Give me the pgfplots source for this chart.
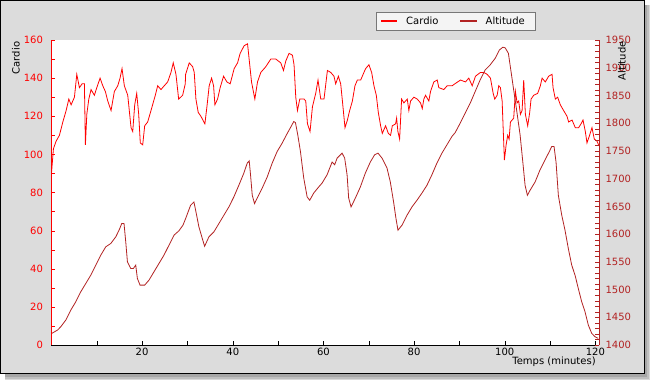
\documentclass[border=0pt]{standalone}
\usepackage{pgfplots}
\pgfplotsset{compat=1.18}
\usepackage{fontspec}
\setmainfont{DejaVu Sans}
\definecolor{fb}{HTML}{B22222}
\definecolor{bgc}{HTML}{DCDCDC}
\definecolor{lgborder}{HTML}{777777}
\definecolor{lgfill}{HTML}{F4F4F4}
\begin{document}
\begin{tikzpicture}[x=1pt,y=1pt]
\fill[white] (0,0) rectangle (650,380);
\fill[gray!30] (5,0) rectangle (650,375);
\fill[gray!50] (5,1.5) rectangle (648.5,375);
\fill[gray!70] (5,3) rectangle (647,375);
\filldraw[fill=bgc, draw=black, line width=1pt] (0.5,6.5) rectangle (644,379.5);
\fill[white] (51,35) rectangle (599,340);
\begin{axis}[
  at={(51pt,35pt)}, anchor=south west, scale only axis,
  width=548pt, height=305pt,
  xmin=-0.1, xmax=120.8, ymin=0, ymax=160,
  axis x line*=bottom, axis y line*=left,
  axis line style={-},
  x axis line style={black},
  y axis line style={red},
  xtick={20,40,...,120}, minor xtick={10,30,...,110},
  ytick={0,20,...,160}, minor ytick={10,30,...,150},
  tick align=inside, major tick length=4pt, minor tick length=4pt,
  x tick style={black}, y tick style={red},
  y tick label style={red, xshift=-4.5pt},
  /pgf/number format/assume math mode=true,
  /pgf/number format/1000 sep={},
  scaled ticks=false,
  tick label style={font=\fontsize{10}{12}\selectfont},
]
\addplot[red, line width=0.8pt] coordinates {
(0,90)(0.44,103)(1.04,107)(1.76,110)(2.51,117)(3.24,123)(3.83,129)(4.34,126)(5.07,130)(5.59,142)(6.17,135)(6.76,137)(7.27,137)(7.49,105)(7.80,121)(8.24,129)(8.74,134)(9.47,131)(10.0,135)(10.73,140)(11.32,136)(11.89,133)(12.42,128)(13.15,123)(13.88,133)(14.63,136)(15.13,140)(15.57,145)(16.08,136)(16.83,131)(17.56,114)(17.93,112)(18.37,126)(18.81,132)(19.25,121)(19.60,106)(20.13,105)(20.57,115)(21.23,117)(21.96,123)(22.91,131)(23.44,136)(24.16,134)(24.89,136)(25.64,138)(26.37,143)(26.87,148)(27.47,142)(28.06,129)(28.94,131)(29.52,137)
(29.6,142)(30.40,148)(31.15,146)(31.50,143)(31.87,129)(32.38,122)(32.97,120)(33.85,116)(34.30,125)(34.80,136)(35.33,140)(35.77,136)(36.06,126)(36.65,129)(37.22,135)(37.97,141)(38.70,138)(39.43,137)(40.31,145)(41.06,148)(41.63,153)(42.51,157)(43.26,158)(43.61,150)(44.14,138)(44.87,129)(45.46,138)(46.19,143)(47.29,146)(48.39,150)(49.49,150)(50.59,148)(51.19,144)(51.70,149)(52.42,153)(53.17,152)(53.52,147)(53.90,130)(54.27,123)(54.78,129)(55.73,129)(56.10,128)(56.48,116)(57.05,112)(57.58,125)(58.30,132)(58.81,139)(59.41,129)(60.13,129)(60.88,144)(61.61,143)(62.33,141)(62.71,137)(63.30,141)(63.81,137)(64.19,128)(64.76,114)(65.29,118)(65.79,123)(66.39,128)(66.96,136)(67.49,139)(68.22,139)(68.94,143)(69.32,145)(70.04,147)(70.64,143)(71.15,136)(71.67,131)(72.11,122)(72.62,115)(72.99,111)(73.72,115)(74.32,111)(74.82,110)(75.20,115)(75.92,116)(76.15,119)(76.43,112)(76.81,108)(77.25,129)(77.75,127)(78.50,129)(78.85,123)(79.23,128)(79.96,130)(80.70,129)(81.43,127)(81.81,124)(82.16,129)(82.53,131)(83.26,128)(83.63,133)(84.36,138)(85.11,139)(85.46,135)(86.56,134)(87.31,136)(88.41,136)(88.99,137)(90.24,139)(91.34,138)(92.07,140)(92.82,136)(93.55,141)(94.65,143)(95.37,143)(96.12,142)(96.85,140)(97.45,132)(97.80,129)(98.33,131)(98.68,136)(99.05,135)(99.43,128)(99.65,114)(99.93,97)(100.31,105)(100.66,110)(100.97,108)(101.26,117)(101.63,118)(101.98,119)(102.36,133)(102.73,127)(103.08,128)(103.46,121)(103.83,123)(104.19,139)(104.56,121)(105.07,115)(105.51,122)(105.81,129)(106.39,131)(107.27,132)(107.86,136)(108.24,140)(108.96,138)(109.69,141)(110.44,142)(110.66,135)(111.17,129)(111.67,130)(112.27,126)(112.99,123)(113.74,120)(114.10,117)(114.85,118)(115.57,114)(116.30,114)(116.83,116)(117.27,118)(117.78,112)(118.15,106)(118.72,110)(119.25,114)(119.76,108)(120.35,107)(120.70,105)
};
\end{axis}
\begin{axis}[
  at={(51pt,35pt)}, anchor=south west, scale only axis,
  width=548pt, height=305pt,
  xmin=-0.1, xmax=120.8, ymin=1400, ymax=1950,
  axis x line=none, axis y line*=right,
  axis line style={-},
  y axis line style={fb},
  ytick={1400,1450,...,1950}, minor y tick num=4,
  tick align=inside, major tick length=4pt, minor tick length=4pt,
  y tick style={fb},
  y tick label style={fb, xshift=3pt},
  /pgf/number format/assume math mode=true,
  /pgf/number format/1000 sep={},
  scaled ticks=false,
  tick label style={font=\fontsize{10}{12}\selectfont},
]
\addplot[fb, line width=0.8pt] coordinates {
(0.1,1421)(1.35,1427)(2.07,1433)(3.17,1445)(4.27,1463)(5.37,1478)(6.47,1496)(7.58,1511)(8.68,1526)(9.78,1544)(10.88,1562)(11.98,1577)(13.08,1583)(14.19,1595)(14.91,1607)(15.51,1619)(16.01,1619)(16.39,1586)(16.76,1550)(17.49,1538)(18.08,1538)(18.59,1544)(18.96,1520)(19.54,1508)(20.57,1508)(21.52,1517)(22.62,1532)(23.72,1547)(24.82,1562)(25.93,1580)(27.03,1598)(28.13,1606)(29.01,1616)(29.60,1628)(30.70,1652)(31.43,1658)(31.81,1643)(32.53,1613)(33.28,1592)(33.79,1578)(34.74,1595)(35.84,1604)(36.94,1619)(38.04,1634)(39.14,1649)(40.24,1667)(41.34,1688)(42.45,1710)(43.19,1728)(43.63,1732)(43.92,1707)(44.30,1670)(44.80,1655)(45.40,1665)(46.50,1683)(47.60,1703)(48.70,1728)(49.80,1749)(50.90,1764)(51.85,1779)(52.73,1792)(53.46,1803)(53.83,1801)(54.34,1779)(54.93,1749)(55.66,1701)(56.41,1667)(56.98,1661)(57.86,1674)(58.96,1685)(59.71,1692)(60.81,1707)(61.92,1730)(62.49,1725)(63.02,1737)(64.12,1746)(64.69,1737)(65.22,1707)(65.57,1665)(66.10,1649)(67.05,1665)(68.15,1685)(69.25,1710)(70.35,1730)(71.30,1743)(72.05,1746)(72.93,1737)(74.03,1719)(74.76,1694)(75.48,1658)(76.01,1628)(76.45,1607)(77.33,1616)(78.44,1634)(79.54,1649)(80.64,1661)(81.74,1674)(82.84,1688)(83.94,1707)(85.04,1728)(86.15,1746)(87.25,1761)(88.35,1776)(89.07,1783)(90.17,1800)(91.28,1818)(92.38,1836)(93.48,1857)(94.58,1878)(95.68,1896)(96.78,1905)(97.89,1917)(98.83,1932)(99.58,1937)(100.09,1936)(100.81,1926)(101.34,1896)(101.92,1863)(102.67,1821)(103.39,1779)(103.99,1730)(104.49,1688)(105.00,1670)(105.59,1679)(106.70,1694)(107.80,1716)(108.90,1734)(109.85,1749)(110.37,1758)(110.88,1758)(111.32,1730)(111.83,1670)(112.58,1634)(113.30,1607)(114.03,1574)(114.78,1544)(115.51,1526)(116.23,1502)(116.98,1478)(117.71,1460)(118.44,1436)(119.19,1421)(119.91,1415)(120.64,1412)
};
\end{axis}
% legend
\filldraw[fill=lgfill, draw=lgborder, line width=0.8pt] (376.5,349.5) rectangle (535,368);
\draw[red, line width=1.6pt] (381,359) -- (397,359);
\node[anchor=west, inner sep=0pt, font=\fontsize{10}{12}\selectfont] at (406,359) {Cardio};
\draw[fb, line width=1.6pt] (460,359) -- (477,359);
\node[anchor=west, inner sep=0pt, font=\fontsize{10}{12}\selectfont] at (485.5,359) {Altitude};
% axis titles
\node[rotate=90, font=\fontsize{10}{12}\selectfont] at (16,322) {Cardio};
\node[rotate=90, font=\fontsize{10}{12}\selectfont] at (622,319) {Altitude};
\node[font=\fontsize{10}{12}\selectfont] at (554,18.5) {Temps (minutes)};
\end{tikzpicture}
\end{document}
